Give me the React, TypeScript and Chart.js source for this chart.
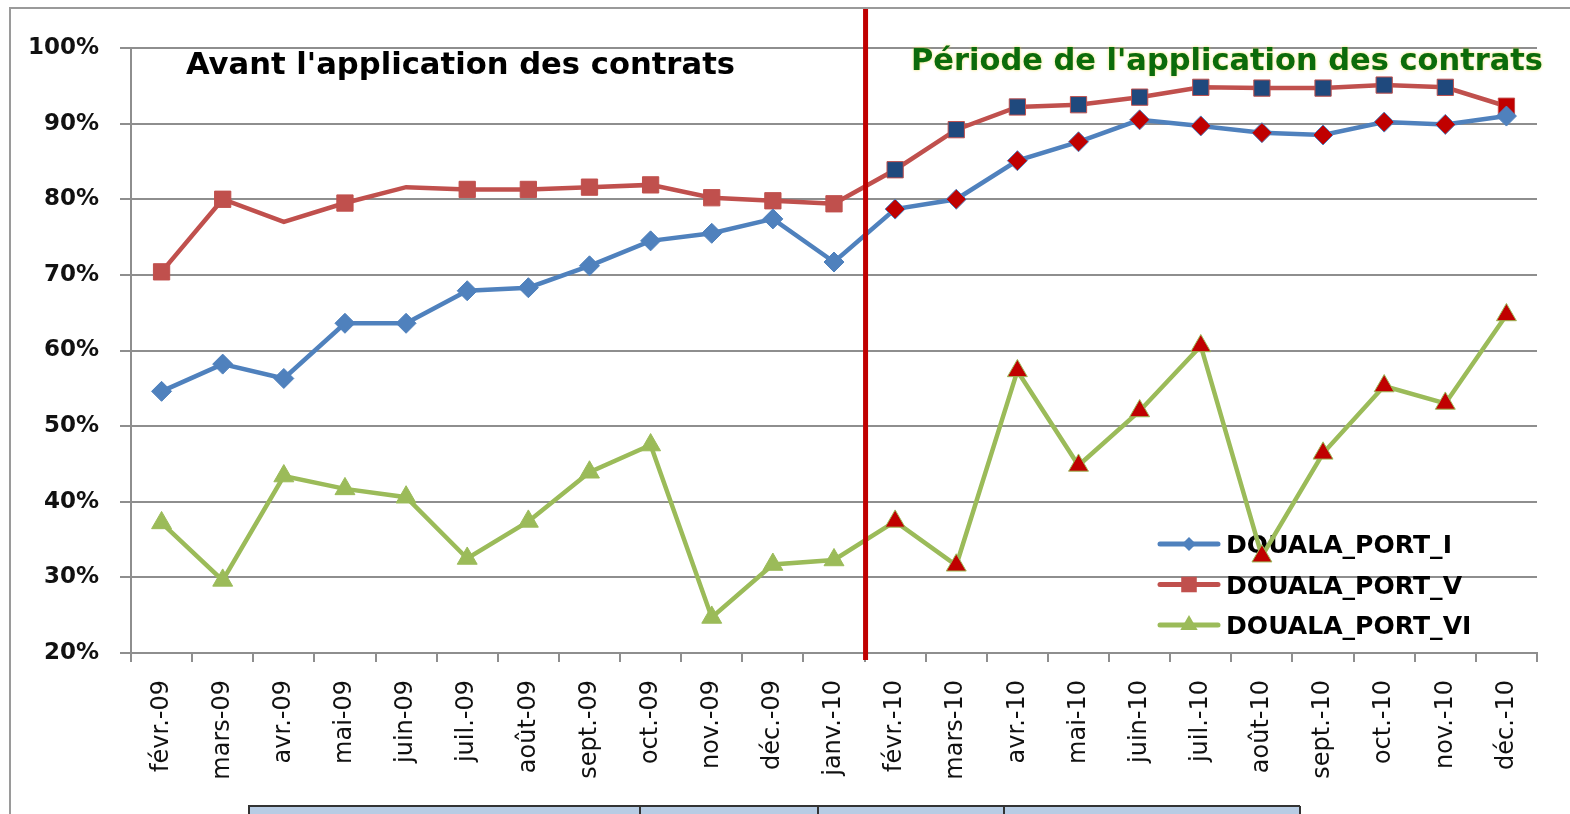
import React, { useEffect, useRef } from "react";
import { Chart, registerables } from "chart.js";

Chart.register(...registerables);

const categories = [
  "févr.-09", "mars-09", "avr.-09", "mai-09", "juin-09", "juil.-09", "août-09", "sept.-09",
  "oct.-09", "nov.-09", "déc.-09", "janv.-10", "févr.-10", "mars-10", "avr.-10", "mai-10",
  "juin-10", "juil.-10", "août-10", "sept.-10", "oct.-10", "nov.-10", "déc.-10",
];

const portI = [54.6, 58.2, 56.3, 63.6, 63.6, 67.9, 68.3, 71.2, 74.5, 75.5, 77.4, 71.7, 78.7, 80.0, 85.1, 87.6, 90.5, 89.7, 88.8, 88.5, 90.2, 89.9, 91.0];
const portV = [70.4, 80.0, 77.0, 79.5, 81.6, 81.3, 81.3, 81.6, 81.9, 80.2, 79.8, 79.4, 83.9, 89.2, 92.2, 92.5, 93.5, 94.8, 94.7, 94.7, 95.1, 94.8, 92.3];
const portVI = [37.2, 29.6, 43.4, 41.7, 40.6, 32.5, 37.4, 43.9, 47.5, 24.7, 31.7, 32.3, 37.4, 31.6, 57.3, 44.8, 52.0, 60.6, 32.8, 46.4, 55.3, 53.0, 64.7];

const seriesLabels = ["DOUALA_PORT_I", "DOUALA_PORT_V", "DOUALA_PORT_VI"];
const periodLabels = ["Avant l'application des contrats", "Période de l'application des contrats"];
const contractStartIndex = 12; // févr.-10
const hiddenMarkersV = [2, 4];

const Y_MIN = 20;
const Y_MAX = 100;
const Y_STEP = 10;

const BLUE = "#4f81bd";
const RED = "#c0504d";
const GREEN = "#9bbb59";
const DARK_RED = "#c00000";
const NAVY = "#1f497d";
const GRID = "#8e8e8e";

const FONT = "'DejaVu Sans', Verdana, sans-serif";

function fitText(ctx: CanvasRenderingContext2D, text: string, x: number, y: number, width: number, font: string, color: string, glow?: string) {
  ctx.save();
  ctx.font = font;
  const w = ctx.measureText(text).width;
  ctx.translate(x, y);
  ctx.scale(width / w, 1.08);
  ctx.textAlign = "left";
  ctx.textBaseline = "alphabetic";
  if (glow) {
    ctx.shadowColor = glow;
    ctx.shadowBlur = 3;
  }
  ctx.fillStyle = color;
  ctx.fillText(text, 0, 0);
  ctx.restore();
}

function drawMarker(ctx: CanvasRenderingContext2D, style: string, x: number, y: number, r: number, color: string) {
  ctx.save();
  ctx.fillStyle = color;
  ctx.beginPath();
  if (style === "rectRot") {
    ctx.moveTo(x, y - r);
    ctx.lineTo(x + r, y);
    ctx.lineTo(x, y + r);
    ctx.lineTo(x - r, y);
  } else if (style === "rect") {
    const s = r * Math.SQRT1_2;
    ctx.rect(x - s, y - s, 2 * s, 2 * s);
  } else {
    const w = r * 0.866;
    ctx.moveTo(x, y - r);
    ctx.lineTo(x + w, y + r * 0.5);
    ctx.lineTo(x - w, y + r * 0.5);
  }
  ctx.closePath();
  ctx.fill();
  ctx.restore();
}

const decorPlugin = {
  id: "decor",
  beforeDraw(chart: any) {
    const ctx = chart.ctx as CanvasRenderingContext2D;
    ctx.save();
    ctx.fillStyle = "#ffffff";
    ctx.fillRect(0, 0, chart.width, chart.height);
    // outer frame
    ctx.strokeStyle = "#9a9a9a";
    ctx.lineWidth = 2;
    ctx.beginPath();
    ctx.moveTo(10, chart.height);
    ctx.lineTo(10, 8);
    ctx.lineTo(chart.width, 8);
    ctx.stroke();
    // table strip at bottom
    ctx.fillStyle = "#b8cce4";
    ctx.fillRect(248, 806, 1300 - 248, 10);
    ctx.strokeStyle = "#333333";
    ctx.lineWidth = 2;
    ctx.beginPath();
    ctx.moveTo(248, 806);
    ctx.lineTo(1300, 806);
    for (const x of [249, 640, 818, 1004, 1300]) {
      ctx.moveTo(x, 806);
      ctx.lineTo(x, 814);
    }
    ctx.stroke();
    ctx.restore();
  },
  beforeDatasetsDraw(chart: any) {
    const ctx = chart.ctx as CanvasRenderingContext2D;
    const styles = ["rectRot", "rect", "triangle"];
    const colors = [BLUE, RED, GREEN];
    const radii = [7, 11, 10];
    ctx.save();
    ctx.font = `bold 24px ${FONT}`;
    const scale = 226 / ctx.measureText(seriesLabels[0]).width;
    seriesLabels.forEach((label, i) => {
      const y = 544 + i * 40.5;
      ctx.strokeStyle = colors[i];
      ctx.lineWidth = 5;
      ctx.lineCap = "round";
      ctx.beginPath();
      ctx.moveTo(1160, y);
      ctx.lineTo(1218, y);
      ctx.stroke();
      drawMarker(ctx, styles[i], 1189, y, radii[i], colors[i]);
      ctx.save();
      ctx.translate(1226, y + 9);
      ctx.scale(scale, 1.05);
      ctx.fillStyle = "#000000";
      ctx.fillText(label, 0, 0);
      ctx.restore();
    });
    ctx.restore();
  },
  afterDatasetsDraw(chart: any) {
    const ctx = chart.ctx as CanvasRenderingContext2D;
    const xs = chart.scales.x;
    const xLine = xs.getPixelForValue(contractStartIndex - 0.5);
    ctx.save();
    ctx.strokeStyle = DARK_RED;
    ctx.lineWidth = 5;
    ctx.beginPath();
    ctx.moveTo(xLine + 1, 9);
    ctx.lineTo(xLine + 1, 660);
    ctx.stroke();
    ctx.restore();
    fitText(ctx, periodLabels[0], 186, 74, 549, `bold 28px ${FONT}`, "#000000");
    fitText(ctx, periodLabels[1], 911, 70, 632, `bold 28px ${FONT}`, "#0b6b0b", "rgba(240,220,60,0.8)");
  },
};

const markerColors = (before: string, after: string, last?: string) =>
  categories.map((_, i) => (i === categories.length - 1 && last ? last : i < contractStartIndex ? before : after));

export default function App() {
  const canvasRef = useRef<HTMLCanvasElement | null>(null);

  useEffect(() => {
    const canvas = canvasRef.current;
    if (!canvas) return;
    const chart = new Chart(canvas, {
      type: "line",
      data: {
        labels: categories,
        datasets: [
          {
            label: seriesLabels[0],
            data: portI,
            borderColor: BLUE,
            borderWidth: 4.5,
            pointStyle: "rectRot",
            pointRadius: 10,
            pointBackgroundColor: markerColors(BLUE, DARK_RED, BLUE),
            pointBorderColor: BLUE,
            pointBorderWidth: 1,
            tension: 0,
            order: 1,
          },
          {
            label: seriesLabels[1],
            data: portV,
            borderColor: RED,
            borderWidth: 4.5,
            pointStyle: "rect",
            pointRadius: categories.map((_, i) => (hiddenMarkersV.includes(i) ? 0 : 11.5)),
            pointBackgroundColor: markerColors(RED, NAVY, DARK_RED),
            pointBorderColor: RED,
            pointBorderWidth: 1,
            tension: 0,
            order: 2,
          },
          {
            label: seriesLabels[2],
            data: portVI,
            borderColor: GREEN,
            borderWidth: 4.5,
            pointStyle: "triangle",
            pointRadius: 11.5,
            pointBackgroundColor: markerColors(GREEN, DARK_RED),
            pointBorderColor: GREEN,
            pointBorderWidth: 1,
            tension: 0,
            order: 0,
          },
        ],
      },
      options: {
        responsive: false,
        maintainAspectRatio: false,
        devicePixelRatio: 1,
        animation: false,
        layout: { padding: { left: 0, right: 33, top: 48, bottom: 0 } },
        plugins: {
          legend: { display: false },
          tooltip: { enabled: false },
          title: { display: false },
        },
        scales: {
          x: {
            type: "category",
            offset: true,
            grid: {
              offset: true,
              drawOnChartArea: false,
              drawTicks: true,
              tickLength: 9,
              color: GRID,
              lineWidth: 2,
            },
            border: { display: true, color: GRID, width: 2 },
            ticks: {
              autoSkip: false,
              minRotation: 90,
              maxRotation: 90,
              padding: 18,
              color: "#111111",
              font: { family: FONT, size: 24 },
            },
            afterFit: (s: any) => {
              s.height = 814 - 653;
            },
          },
          y: {
            min: Y_MIN,
            max: Y_MAX,
            grid: {
              color: GRID,
              lineWidth: 2,
              drawTicks: true,
              tickLength: 11,
            },
            border: { display: true, color: GRID, width: 2 },
            ticks: {
              stepSize: Y_STEP,
              padding: 21,
              color: "#111111",
              font: { family: FONT, size: 23, weight: "bold" },
              callback: (v: any) => `${v}%`,
            },
            afterFit: (s: any) => {
              s.width = 131;
            },
          },
        },
      },
      plugins: [decorPlugin],
    });
    return () => chart.destroy();
  }, []);

  return (
    <div style={{ position: "absolute", left: 0, top: 0, width: 1570, height: 814, background: "#fff" }}>
      <canvas ref={canvasRef} width={1570} height={814} style={{ display: "block", width: 1570, height: 814 }} />
    </div>
  );
}
